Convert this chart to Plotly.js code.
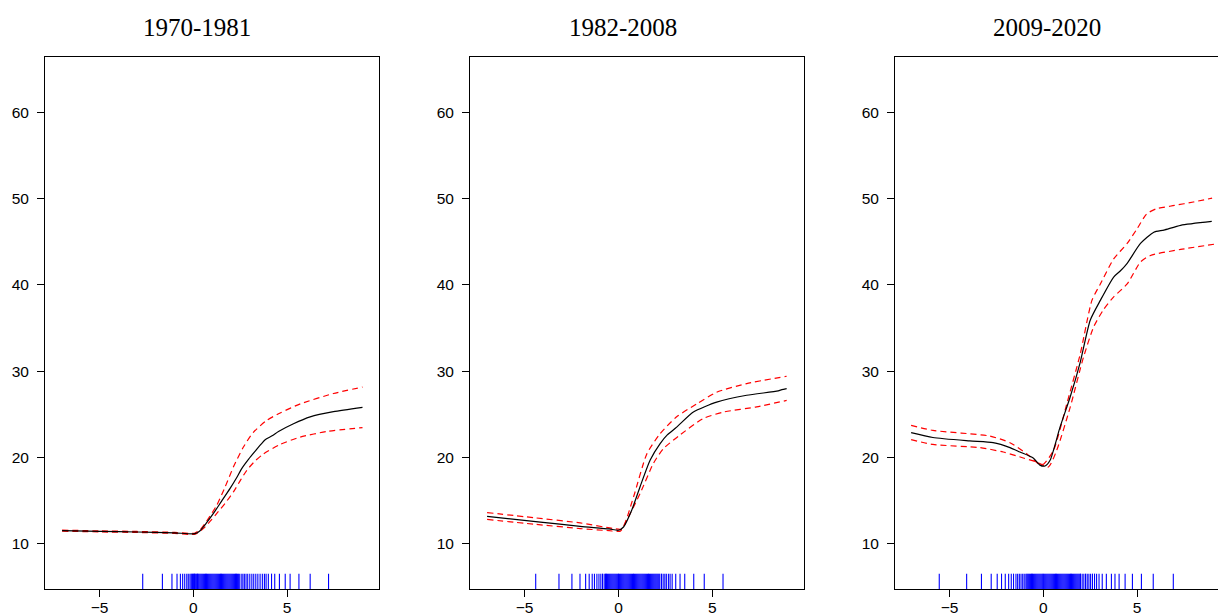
<!DOCTYPE html>
<html>
<head>
<meta charset="utf-8">
<script src="https://cdn.plot.ly/plotly-3.0.1.min.js"></script>
<style>
html,body{margin:0;padding:0;overflow:hidden;background:#fff;}
#chart{width:1240px;height:614px;}
</style>
</head>
<body>
<div id="chart"></div>
<script>
// ---------- data ----------
const panelTitles = ["1970-1981", "1982-2008", "2009-2020"];
const xTickVals = [-5, 0, 5];
const yTickVals = [10, 20, 30, 40, 50, 60];

// Panel 1: 1970-1981
const p1FitX = [-7.0, -5, -3, -1, 0.09, 0.36, 0.7, 1.07, 1.5, 1.96, 2.3, 2.58, 2.95, 3.29, 3.6, 3.83, 4.2, 4.54, 5.34, 6.23, 7.47, 9.02];
const p1FitY = [11.5, 11.42, 11.35, 11.25, 11.15, 11.5, 12.4, 13.5, 14.9, 16.4, 17.6, 18.7, 19.8, 20.7, 21.5, 22.05, 22.5, 23.0, 23.9, 24.7, 25.3, 25.8];
const p1UpX = [-7, -5, -3, -1, 0.05, 0.36, 0.8, 1.25, 1.7, 2.14, 2.67, 3.2, 3.92, 4.63, 5.7, 7.47, 9.02];
const p1UpY = [11.56, 11.48, 11.41, 11.31, 11.2, 11.6, 12.9, 14.45, 16.6, 18.9, 21.2, 22.9, 24.3, 25.15, 26.2, 27.4, 28.15];
const p1LoX = [-7, -5, -3, -1, 0.1, 0.53, 0.9, 1.25, 1.7, 2.14, 2.5, 2.85, 3.3, 3.74, 4.63, 5.7, 7.12, 9.02];
const p1LoY = [11.44, 11.36, 11.29, 11.19, 11.1, 11.74, 12.6, 13.5, 14.7, 16.0, 17.3, 18.5, 19.6, 20.4, 21.5, 22.35, 23.0, 23.45];
const p1Rug = [-2.70, -1.65, -1.14, -0.87, -0.69, -0.57, -0.46, -0.35, -0.27, -0.18,
  -0.12, -0.08, -0.04, 0.0, 0.03, 0.06, 0.1, 0.14, 0.18, 0.22, 0.26, 0.3, 0.35, 0.4, 0.45, 0.5,
  0.55, 0.6, 0.65, 0.7, 0.75, 0.8, 0.85, 0.9, 0.95, 1.0, 1.05, 1.1, 1.15, 1.2, 1.25, 1.3, 1.35,
  1.4, 1.45, 1.5, 1.55, 1.6, 1.65, 1.7, 1.75, 1.8, 1.85, 1.9, 1.95, 2.0, 2.05, 2.1, 2.15, 2.2,
  2.25, 2.3, 2.35, 2.4, 2.45,
  2.55, 2.64, 2.72, 2.81, 2.90, 3.01, 3.12, 3.22, 3.33, 3.44, 3.56, 3.68, 3.79, 3.88, 4.0,
  4.17, 4.34, 4.59, 4.9, 5.16, 5.63, 6.23, 7.21];

// Panel 2: 1982-2008
const p2FitX = [-7, -4.16, -2.04, -0.5, 0, 0.27, 0.71, 1.15, 1.69, 2.22, 2.6, 3.1, 3.99, 5.23, 6.83, 8.51, 8.7, 8.96];
const p2FitY = [13.15, 12.5, 12.0, 11.7, 11.55, 11.93, 13.9, 16.6, 19.7, 21.6, 22.6, 23.5, 25.25, 26.4, 27.2, 27.7, 27.85, 27.97];
const p2UpX = [-7, -4.5, -2.04, -0.27, 0.18, 0.8, 1.51, 2.22, 3.1, 4.17, 5.23, 6.83, 8.96];
const p2UpY = [13.6, 13.0, 12.4, 11.75, 11.7, 15.4, 20.4, 22.75, 24.7, 26.2, 27.55, 28.55, 29.4];
const p2LoX = [-7, -4.5, -2.04, -0.5, 0.1, 0.44, 1.15, 1.86, 2.39, 3.28, 4.52, 5.59, 7.36, 8.96];
const p2LoY = [12.8, 12.25, 11.75, 11.5, 11.45, 12.7, 15.8, 19.3, 21.0, 22.6, 24.5, 25.25, 25.85, 26.6];
const p2Rug = [-4.41, -3.17, -2.48, -2.05, -1.75, -1.56, -1.40, -1.28, -1.15, -1.04, -0.94, -0.85, -0.76,
  -0.69, -0.64, -0.59, -0.54, -0.49, -0.44, -0.39, -0.34, -0.29, -0.24, -0.19, -0.14, -0.09, -0.04,
  0.0, 0.05, 0.1, 0.15, 0.2, 0.25, 0.3, 0.35, 0.4, 0.45, 0.5, 0.55, 0.6, 0.65, 0.7, 0.75, 0.8,
  0.85, 0.9, 0.95, 1.0, 1.05, 1.1, 1.15, 1.2, 1.25, 1.3, 1.35, 1.4, 1.45, 1.5, 1.55, 1.6, 1.65,
  1.7, 1.75, 1.8, 1.85, 1.9, 1.95, 2.0, 2.05, 2.1, 2.15, 2.2,
  2.29, 2.38, 2.47, 2.55, 2.66, 2.75, 2.86, 3.05, 3.28, 3.53, 4.01, 4.57, 5.57];

// Panel 3: 2009-2020
const p3FitX = [-7.05, -5.89, -3.93, -2.68, -1.78, -1.25, -0.54, -0.18, 0.09, 0.36, 0.89, 1.43, 1.97, 2.5, 3.04, 3.75, 4.1, 4.47, 5.18, 5.89, 6.43, 7.32, 8.98];
const p3FitY = [22.87, 22.3, 21.9, 21.7, 21.13, 20.62, 19.93, 19.1, 19.0, 19.66, 23.5, 27.0, 31.05, 35.9, 38.2, 40.9, 41.6, 42.5, 44.8, 46.1, 46.35, 46.9, 47.35];
const p3UpX = [-7.05, -5.89, -2.86, -1.78, -0.89, -0.27, 0.0, 0.54, 1.25, 1.97, 2.59, 3.04, 3.75, 4.47, 5.0, 5.5, 6.0, 7.0, 8.0, 9.0];
const p3UpY = [23.7, 23.13, 22.47, 21.7, 20.43, 19.27, 19.2, 20.8, 26.2, 32.0, 38.2, 40.1, 43.0, 44.8, 46.5, 48.2, 48.8, 49.2, 49.6, 50.05];
const p3LoX = [-7.05, -5.89, -3.39, -2.14, -1.07, -0.36, 0.27, 0.71, 1.43, 2.14, 2.68, 3.2, 3.75, 4.47, 5.18, 5.71, 7.32, 9.1];
const p3LoY = [22.05, 21.5, 21.13, 20.62, 19.93, 19.46, 18.88, 20.8, 25.8, 31.6, 35.1, 37.1, 38.6, 40.1, 42.65, 43.4, 44.1, 44.7];
const p3Rug = [-5.55, -4.09, -3.30, -2.78, -2.46, -2.23, -2.03, -1.85, -1.71, -1.59, -1.46, -1.37, -1.28, -1.19, -1.10, -1.02,
  -0.93, -0.88, -0.83, -0.78, -0.73, -0.68, -0.63, -0.58, -0.53, -0.48, -0.43, -0.38, -0.33, -0.28,
  -0.23, -0.18, -0.13, -0.08, -0.03, 0.0, 0.05, 0.1, 0.15, 0.2, 0.25, 0.3, 0.35, 0.4, 0.45, 0.5,
  0.55, 0.6, 0.65, 0.7, 0.75, 0.8, 0.85, 0.9, 0.95, 1.0, 1.05, 1.1, 1.15, 1.2, 1.25, 1.3, 1.35,
  1.4, 1.45, 1.5, 1.55, 1.6, 1.65, 1.7, 1.75, 1.8, 1.85, 1.9, 1.95, 1.98,
  2.07, 2.16, 2.25, 2.34, 2.43, 2.52, 2.62, 2.73, 2.84, 2.97, 3.14, 3.36, 3.63, 3.82, 4.04, 4.36,
  4.75, 5.23, 5.86, 6.93];

// ---------- build ----------
const X_RANGE = [-7.91, 9.90];
const Y_RANGE = [4.74, 66.41];
const RUG_TOP = 6.52;

const panels = [
  {fx: p1FitX, fy: p1FitY, ux: p1UpX, uy: p1UpY, lx: p1LoX, ly: p1LoY, rug: p1Rug},
  {fx: p2FitX, fy: p2FitY, ux: p2UpX, uy: p2UpY, lx: p2LoX, ly: p2LoY, rug: p2Rug},
  {fx: p3FitX, fy: p3FitY, ux: p3UpX, uy: p3UpY, lx: p3LoX, ly: p3LoY, rug: p3Rug}
];

const W = 1240, L = 45, R = 11;
const plotW = W - L - R;
const domPx = [[45, 379], [470, 804.3], [895, 1229]];

const traces = [];
const layout = {
  width: W, height: 614,
  margin: {l: L, r: R, t: 56.7, b: 25.3, pad: 0},
  paper_bgcolor: "#fff", plot_bgcolor: "#fff",
  showlegend: false,
  font: {family: "Liberation Sans, Arial, sans-serif", size: 15.5, color: "#000"},
  annotations: []
};

panels.forEach((p, i) => {
  const n = i + 1;
  const xa = n === 1 ? "x" : "x" + n;
  const ya = n === 1 ? "y" : "y" + n;
  const rx = [], ry = [];
  p.rug.forEach(v => { rx.push(v, v, null); ry.push(Y_RANGE[0], RUG_TOP, null); });
  traces.push({x: rx, y: ry, xaxis: xa, yaxis: ya, type: "scatter", mode: "lines",
    line: {color: "#0000ff", width: 1.1}, hoverinfo: "skip"});
  traces.push({x: p.ux, y: p.uy, xaxis: xa, yaxis: ya, type: "scatter", mode: "lines",
    line: {color: "#ff0000", width: 1.2, dash: "6px,4px", shape: "spline", smoothing: 0.6}});
  traces.push({x: p.lx, y: p.ly, xaxis: xa, yaxis: ya, type: "scatter", mode: "lines",
    line: {color: "#ff0000", width: 1.2, dash: "6px,4px", shape: "spline", smoothing: 0.6}});
  traces.push({x: p.fx, y: p.fy, xaxis: xa, yaxis: ya, type: "scatter", mode: "lines",
    line: {color: "#000000", width: 1.2, shape: "spline", smoothing: 0.6}});

  const d = domPx[i];
  const axisCommon = {showgrid: false, zeroline: false, showline: true, mirror: true,
    linecolor: "#000", linewidth: 1, ticks: "outside", ticklen: 7, tickwidth: 1, tickcolor: "#000",
    tickfont: {family: "Liberation Sans, Arial, sans-serif", size: 15.5, color: "#000"}, fixedrange: true};
  layout["xaxis" + (n === 1 ? "" : n)] = Object.assign({}, axisCommon, {
    domain: [(d[0] - L) / plotW, Math.min(1, (d[1] - L) / plotW)],
    range: X_RANGE, tickmode: "array", tickvals: xTickVals,
    ticktext: xTickVals.map(v => v < 0 ? "\u2212" + Math.abs(v) : String(v)),
    anchor: ya, ticklabelstandoff: -3
  });
  layout["yaxis" + (n === 1 ? "" : n)] = Object.assign({}, axisCommon, {
    domain: [0, 1], range: Y_RANGE, tickmode: "array", tickvals: yTickVals,
    ticktext: yTickVals.map(String), anchor: xa, ticklabelstandoff: 5
  });
  layout.annotations.push({text: panelTitles[i], xref: xa, yref: "paper",
    x: 0.22, y: 1.0549, xanchor: "center", yanchor: "middle", showarrow: false,
    font: {family: "Liberation Serif, Times New Roman, serif", size: 25, color: "#000"}});
});

Plotly.newPlot("chart", traces, layout, {displayModeBar: false, staticPlot: true});
</script>
</body>
</html>
